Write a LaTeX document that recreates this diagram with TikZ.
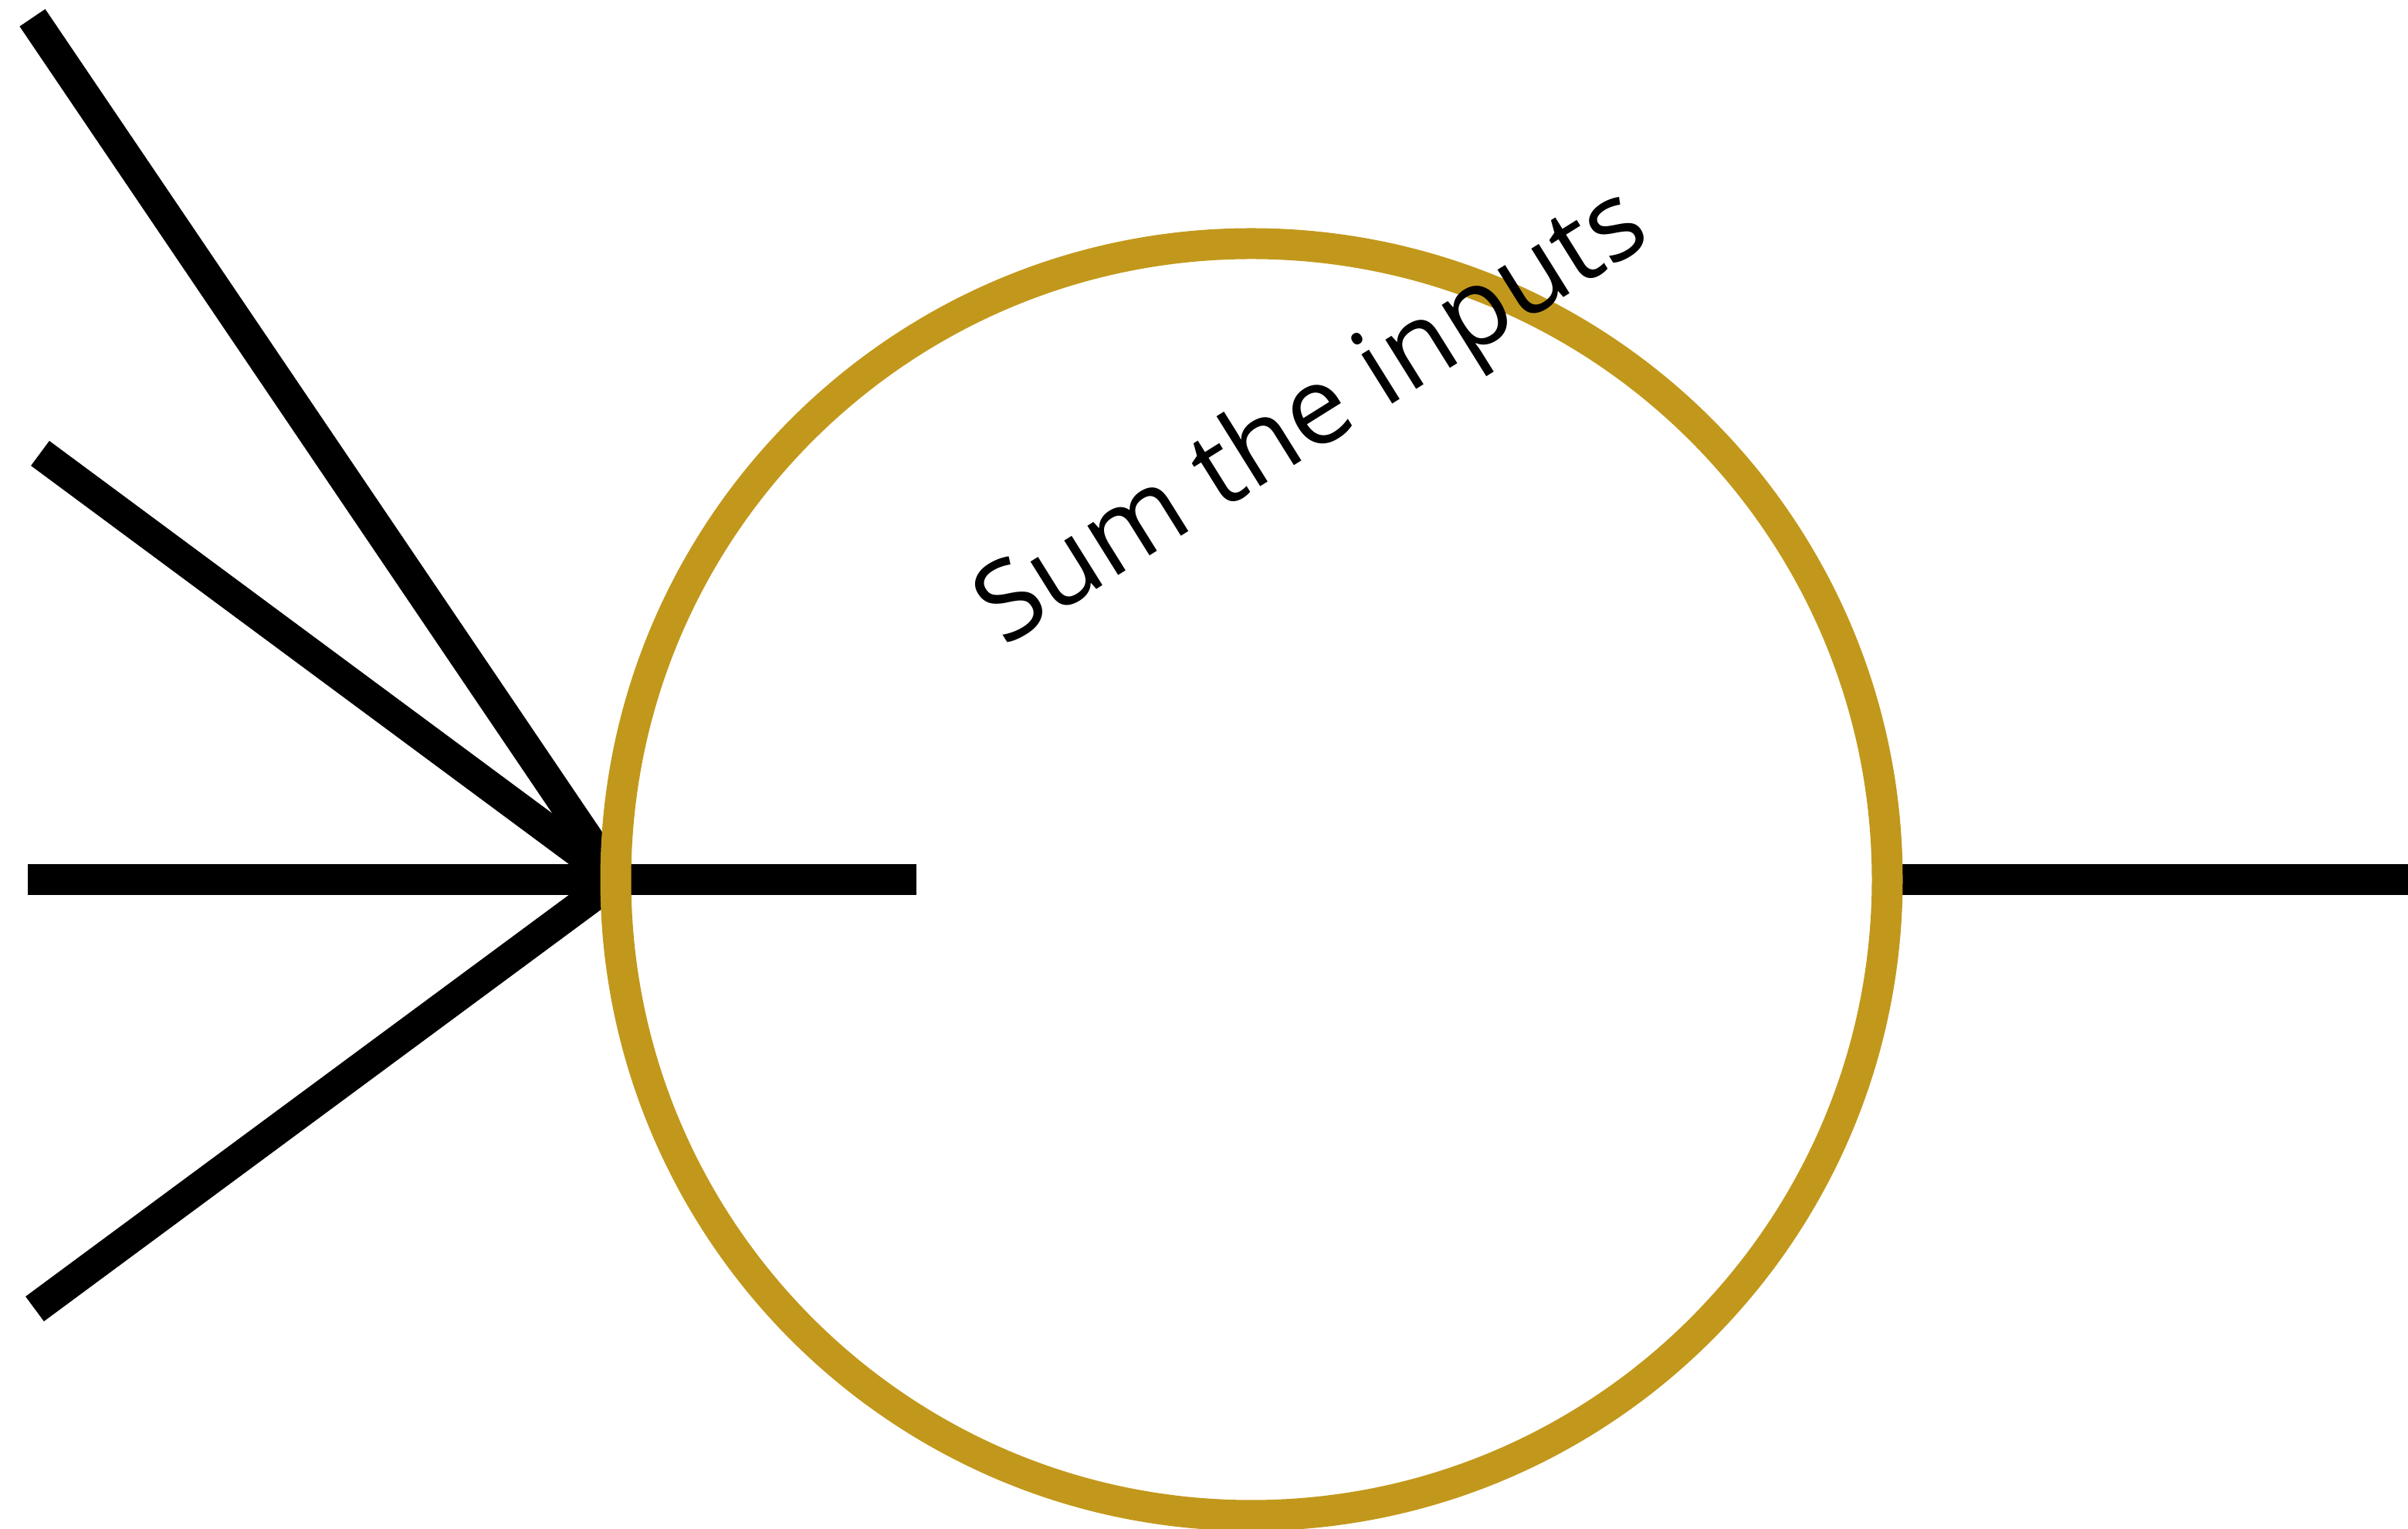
\documentclass[tikz,border=0pt]{standalone}
\usepackage{fontspec}
\setmainfont{Open Sans}
\usepackage{tikz}
\usetikzlibrary{positioning,calc}
\definecolor{sumgold}{RGB}{194,152,28}
\pgfdeclarelayer{background}
\pgfsetlayers{background,main}

\begin{document}
\begin{tikzpicture}[
    wire/.style={draw=black, line width=0.4cm},
    sumnode/.style={circle, draw=sumgold, line width=0.4cm, minimum size=16.47cm, inner sep=0pt, outer sep=0pt}
]
\useasboundingbox (0,0) rectangle (31.19,19.80);

% Summation node
\node[sumnode] (sum) at (16.21,8.41) {};
\node[rotate=32, font=\fontsize{40}{48}\selectfont] (label) at (17.02,14.36) {Sum the inputs};

% Wire ends
\coordinate (in1) at (0.42,19.57);
\coordinate (in2) at (0.52,13.93);
\coordinate (in3) at (0.36,8.41);
\coordinate (in4) at (0.45,2.85);
\coordinate (tap) at (4.74,8.41);
\coordinate (tapend) at (11.87,8.41);
\coordinate (out) at (31.19,8.41);

% Wires (under the circle)
\begin{pgfonlayer}{background}
\draw[wire] (in1) -- (sum.west);
\draw[wire] (in2) -- (sum.west);
\draw[wire] (in3) -- (sum.west);
\draw[wire] (in4) -- (sum.west);
\draw[wire] (tap) -- (tapend);
\draw[wire] (sum.east) -- (out);
\end{pgfonlayer}

\end{tikzpicture}
\end{document}
